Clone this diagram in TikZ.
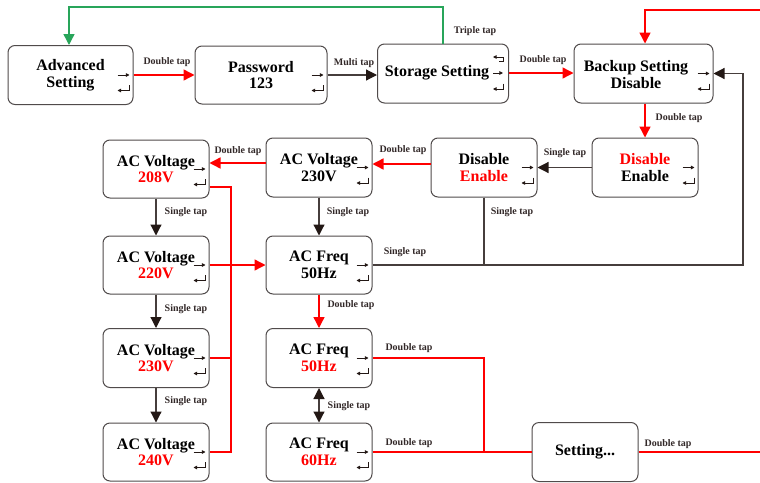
\documentclass[tikz,border=0pt]{standalone}
\usepackage{fontspec}
\setmainfont{Liberation Serif}
\usetikzlibrary{arrows.meta}
\definecolor{ink}{RGB}{35,24,21}
\definecolor{wire}{RGB}{70,62,60}
\definecolor{signal}{RGB}{255,0,0}
\definecolor{loop}{RGB}{40,165,90}
\definecolor{frame}{RGB}{80,75,75}
\definecolor{tag}{RGB}{50,40,40}
\newcommand\menutext{\fontsize{16}{16.5}\selectfont\bfseries}
\newcommand\taptext{\fontsize{10}{11}\selectfont\bfseries}
% small navigation glyphs drawn inside a menu box
\newcommand\navicons[1]{%
  \draw[icon,-{Triangle[length=3.6pt,width=3.6pt]}] ([shift={(-16,0)}]#1.east) -- ([shift={(-4,0)}]#1.east);
  \draw[icon,-{Triangle[length=3.6pt,width=3.6pt]}] ([shift={(-4,10)}]#1.east) -- ([shift={(-4,15.5)}]#1.east) -- ([shift={(-16,15.5)}]#1.east);
}
\tikzset{
  box/.style={draw=frame, line width=1pt, rounded corners=7pt, fill=white,
    minimum width=106pt, minimum height=59pt, align=center, inner sep=0pt,
    font=\menutext, text=black},
  boxtext/.style={align=center, inner sep=0pt, font=\menutext, text=black},
  icon/.style={draw=ink, line width=0.9pt},
  tapnote/.style={font=\taptext, text=tag, inner sep=0pt},
  blk/.style={draw=wire, line width=1.2pt},
  blkarrow/.style={blk, -{Triangle[length=11pt,width=11pt,color=ink]}},
  redline/.style={color=signal, line width=1.4pt},
  redarrow/.style={redline, -{Triangle[length=11pt,width=11pt]}},
  grnarrow/.style={color=loop, line width=1.4pt, -{Triangle[length=11pt,width=11pt]}},
}
\begin{document}
\begin{tikzpicture}[x=1pt,y=-1pt]
\useasboundingbox (0,0) rectangle (760,482);

% ---- top row
\node[box, minimum width=125pt] (adv) at (70.5,75) {Advanced\\Setting};
\node[box, minimum width=132pt, minimum height=58pt] (pwd) at (261,75) {Password\\123};
\node[box, minimum width=131pt] (sto) at (443,73.5) {};
\node[boxtext] (stotext) at (437,72.5) {Storage Setting};
\node[box, minimum width=139pt] (bak) at (643.5,73.5) {};
\node[boxtext] (baktext) at (636,74.5) {Backup Setting\\Disable};

% ---- backup enable row
\node[box] (dis1) at (645,167.5) {\textcolor{signal}{Disable}\\Enable};
\node[box] (dis2) at (484,167.5) {Disable\\\textcolor{signal}{Enable}};

% ---- voltage and frequency menus
\node[box] (v230) at (319,167.5) {AC Voltage\\230V};
\node[box, minimum height=58pt] (v208) at (156,169) {AC Voltage\\\textcolor{signal}{208V}};
\node[box, minimum height=58pt] (v220) at (156,265) {AC Voltage\\\textcolor{signal}{220V}};
\node[box, minimum height=58pt] (f50) at (319,265) {AC Freq\\50Hz};
\node[box] (v230r) at (156,358) {AC Voltage\\\textcolor{signal}{230V}};
\node[box] (f50r) at (319,358) {AC Freq\\\textcolor{signal}{50Hz}};
\node[box, minimum height=58pt] (v240) at (156,452) {AC Voltage\\\textcolor{signal}{240V}};
\node[box, minimum height=58pt] (f60) at (319,452) {AC Freq\\\textcolor{signal}{60Hz}};
\node[box] (set) at (585,452) {Setting...};

% ---- glyphs inside the boxes
\navicons{adv}
\navicons{pwd}
\navicons{bak}
\navicons{dis1}
\navicons{dis2}
\navicons{v230}
\navicons{v208}
\navicons{v220}
\navicons{f50}
\navicons{v230r}
\navicons{f50r}
\navicons{v240}
\navicons{f60}
\draw[icon,-{Triangle[length=3.6pt,width=3.6pt]}] ([shift={(-16,-0.5)}]sto.east) -- ([shift={(-6,-0.5)}]sto.east);
\draw[icon,-{Triangle[length=3.6pt,width=3.6pt]}] ([shift={(-6,10)}]sto.east) -- ([shift={(-6,15.5)}]sto.east) -- ([shift={(-16,15.5)}]sto.east);
\draw[icon,-{Triangle[length=3.6pt,width=3.6pt]}] ([shift={(-10,-12)}]sto.east) -- ([shift={(-6,-12)}]sto.east) -- ([shift={(-6,-16.5)}]sto.east) -- ([shift={(-16,-16.5)}]sto.east);

% ---- helper coordinates for the routed wires
\coordinate (gtop) at (69,7);
\coordinate (rtop) at (760,10);
\coordinate (vbus) at (231,0);
\coordinate (fbus) at (484,0);
\coordinate (rside) at (743,0);
\coordinate (rexit) at (760,452);
\coordinate (stout) at ([yshift=0.5pt]sto.east);
\coordinate (vtap) at ([yshift=4.5pt]v230.west);

% ---- top row connectors
\draw[redarrow] (adv.east) -- (pwd.west);
\draw[blkarrow] (pwd.east) -- (pwd.east -| sto.west);
\draw[redarrow] (stout) -- (stout -| bak.west);
\draw[grnarrow] (sto.north) |- (gtop) -- (gtop |- adv.north);
\draw[redarrow] (rtop) -| (dis1.north |- bak.north);
\draw[redarrow] (dis1.north |- bak.south) -- (dis1.north);

% ---- enable row
\draw[blkarrow] (dis1.west) -- (dis2.east);
\draw[redarrow] ([yshift=3.5pt]dis2.west) -- ([yshift=3.5pt]v230.east);
\draw[redarrow] (vtap) -- (v208.east |- vtap);
\draw[blk] (dis2.south) -- (dis2.south |- f50.east);

% ---- voltage column
\draw[blkarrow] (v208.south) -- (v220.north);
\draw[blkarrow] (v220.south) -- (v230r.north);
\draw[blkarrow] (v230r.south) -- (v240.north);
\draw[redline] ([yshift=-18pt]v208.east) -| (vbus |- v240.east) -- (v240.east);
\draw[redline] (v230r.east) -- (vbus |- v230r.east);
\draw[redarrow] (v220.east) -- (f50.west);

% ---- frequency column
\draw[blkarrow] (v230.south) -- (f50.north);
\draw[blkarrow] (f50.east) -| (rside |- bak.east) -- (bak.east);
\draw[redarrow] (f50.south) -- (f50r.north);
\draw[blk, {Triangle[length=11pt,width=11pt,color=ink]}-{Triangle[length=11pt,width=11pt,color=ink]}] (f50r.south) -- (f60.north);
\draw[redline] (f50r.east) -| (fbus |- f60.east);
\draw[redline] (f60.east) -- (set.west);
\draw[redline] (set.east) -- (rexit);

% ---- tap labels
\node[tapnote] (t1) at (167,62) {Double tap};
\node[tapnote] (t2) at (354,63) {Multi tap};
\node[tapnote] (t3) at (475,31) {Triple tap};
\node[tapnote] (t4) at (543,60) {Double tap};
\node[tapnote] (t5) at (679,118) {Double tap};
\node[tapnote] (t6) at (565,153) {Single tap};
\node[tapnote] (t7) at (403,150) {Double tap};
\node[tapnote] (t8) at (238,151) {Double tap};
\node[tapnote] (t9) at (512,212) {Single tap};
\node[tapnote] (t10) at (405,252) {Single tap};
\node[tapnote] (t11) at (186,212) {Single tap};
\node[tapnote] (t12) at (348,212) {Single tap};
\node[tapnote] (t13) at (186,309) {Single tap};
\node[tapnote] (t14) at (351,305) {Double tap};
\node[tapnote] (t15) at (186,401) {Single tap};
\node[tapnote] (t16) at (349,406) {Single tap};
\node[tapnote] (t17) at (409,348) {Double tap};
\node[tapnote] (t18) at (409,443) {Double tap};
\node[tapnote] (t19) at (668,444) {Double tap};
\end{tikzpicture}
\end{document}
